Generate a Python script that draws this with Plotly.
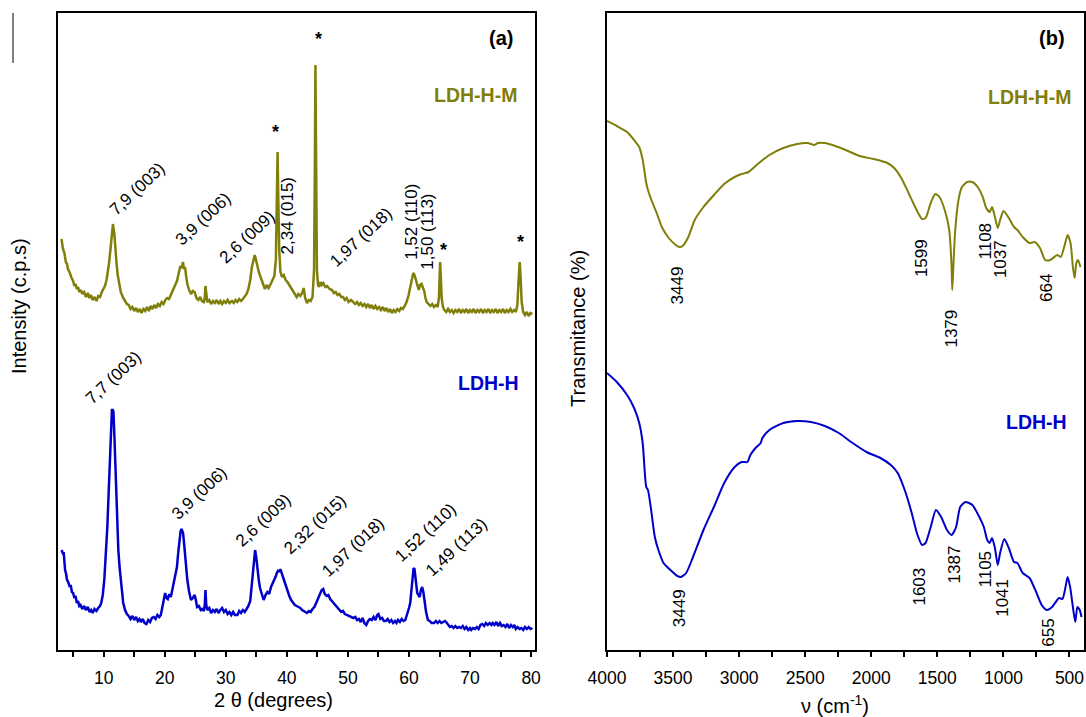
import plotly.graph_objects as go

# ---------------- XRD data (panel a) ----------------
xrd_hm_2theta = [3.1, 3.3, 3.57, 3.8, 4.0, 4.15, 4.4, 4.6, 4.74, 5.0, 5.2, 5.4, 5.6, 5.8, 6.0, 6.3, 6.5, 6.8, 7.1, 7.4,
                 7.66, 7.9, 8.2, 8.5, 8.83, 9.1, 9.4, 9.7, 10.0, 10.2, 10.47, 10.7, 10.88, 11.1, 11.29, 11.52, 11.75, 11.9, 12.1, 12.3,
                 12.5, 12.8, 13.2, 13.5, 13.8, 14.1, 14.4, 14.7, 15.0, 15.3, 15.6, 15.9, 16.2, 16.5, 16.8, 17.1, 17.4, 17.7, 18.0, 18.3,
                 18.6, 18.9, 19.2, 19.5, 19.8, 20.1, 20.4, 20.7, 21.1, 21.4, 21.7, 22.0, 22.3, 22.57, 22.8, 22.98, 23.15, 23.33, 23.5, 23.7,
                 24.0, 24.3, 24.6, 24.9, 25.2, 25.5, 25.8, 26.1, 26.4, 26.55, 26.67, 26.8, 26.96, 27.3, 27.6, 27.9, 28.2, 28.5, 28.8, 29.1,
                 29.4, 29.7, 30.0, 30.3, 30.6, 31.0, 31.3, 31.6, 31.9, 32.2, 32.5, 32.8, 33.1, 33.4, 33.7, 34.0, 34.27, 34.5, 34.74, 34.95,
                 35.15, 35.4, 35.7, 35.9, 36.1, 36.4, 36.7, 37.0, 37.2, 37.5, 37.7, 37.95, 38.2, 38.36, 38.48, 38.6, 38.75, 38.95, 39.2, 39.5,
                 39.8, 40.1, 40.4, 40.7, 41.0, 41.3, 41.6, 41.9, 42.2, 42.5, 42.75, 43.0, 43.3, 43.6, 43.9, 44.2, 44.45, 44.58, 44.68, 44.8,
                 44.92, 45.1, 45.26, 45.5, 45.7, 45.96, 46.3, 46.6, 47.0, 47.4, 47.7, 48.0, 48.3, 48.6, 48.9, 49.2, 49.5, 49.8, 50.1, 50.5,
                 50.9, 51.2, 51.5, 51.8, 52.1, 52.4, 52.7, 53.0, 53.3, 53.6, 53.9, 54.2, 54.5, 54.8, 55.1, 55.4, 55.7, 56.0, 56.3, 56.6,
                 56.9, 57.2, 57.5, 57.8, 58.1, 58.4, 58.7, 59.0, 59.3, 59.6, 59.9, 60.2, 60.45, 60.7, 60.9, 61.1, 61.35, 61.6, 61.8, 62.05,
                 62.3, 62.5, 62.7, 62.9, 63.2, 63.5, 63.8, 64.1, 64.4, 64.7, 64.9, 65.0, 65.1, 65.2, 65.35, 65.56, 65.8, 66.1, 66.4, 66.7,
                 67.0, 67.3, 67.6, 67.9, 68.2, 68.5, 68.8, 69.1, 69.4, 69.7, 70.0, 70.3, 70.6, 70.9, 71.2, 71.5, 71.8, 72.1, 72.4, 72.7,
                 73.0, 73.3, 73.6, 73.9, 74.2, 74.5, 74.8, 75.1, 75.4, 75.7, 76.0, 76.3, 76.6, 76.9, 77.2, 77.5, 77.75, 77.95, 78.13, 78.3,
                 78.45, 78.7, 79.0, 79.3, 79.6, 79.9, 80.2]
xrd_hm_counts = [411, 402, 397, 388, 386, 381, 378, 374, 372, 369, 364, 366, 361, 363, 358, 360, 356, 358, 353, 357,
                 352, 355, 350, 353, 349, 354, 353, 358, 361, 364, 370, 378, 387, 400, 416, 426, 416, 400, 387, 375,
                 367, 358, 352, 349, 346, 345, 341, 343, 339, 342, 338, 341, 337, 341, 339, 343, 339, 344, 341, 345,
                 342, 346, 344, 348, 346, 350, 352, 351, 357, 360, 364, 369, 377, 384, 382, 388, 381, 383, 374, 366,
                 360, 356, 359, 358, 352, 350, 353, 349, 348, 352, 364, 352, 348, 350, 346, 349, 347, 350, 346, 349,
                 346, 349, 347, 350, 347, 349, 347, 350, 348, 351, 349, 351, 353, 356, 361, 370, 383, 390, 395, 390,
                 383, 378, 373, 369, 365, 361, 365, 362, 364, 368, 370, 374, 390, 450, 498, 450, 400, 378, 373, 375,
                 370, 368, 365, 363, 360, 357, 353, 356, 354, 357, 362, 352, 347, 350, 349, 353, 380, 480, 585, 480,
                 380, 365, 363, 368, 365, 367, 363, 364, 361, 360, 357, 358, 355, 356, 353, 353, 350, 352, 348, 350,
                 348, 346, 348, 345, 347, 344, 346, 343, 346, 342, 345, 341, 344, 341, 343, 340, 343, 339, 342, 338,
                 341, 337, 340, 338, 341, 339, 342, 341, 344, 348, 354, 362, 372, 377, 375, 370, 364, 360, 365, 366,
                 362, 359, 352, 348, 346, 344, 346, 343, 345, 343, 352, 375, 388, 375, 352, 343, 340, 338, 341, 338,
                 340, 337, 340, 338, 341, 337, 340, 338, 341, 337, 340, 338, 341, 337, 340, 338, 341, 337, 340, 338,
                 341, 337, 340, 338, 341, 337, 340, 338, 341, 337, 340, 338, 341, 338, 340, 338, 345, 370, 388, 370,
                 348, 338, 335, 338, 334, 337, 336]

xrd_h_2theta = [3.1, 3.3, 3.45, 3.6, 3.68, 3.85, 4.0, 4.2, 4.44, 4.6, 4.8, 5.0, 5.2, 5.4, 5.6, 5.8, 6.0, 6.2, 6.5, 6.8,
                7.1, 7.4, 7.7, 7.95, 8.2, 8.5, 8.8, 9.1, 9.4, 9.6, 9.85, 10.1, 10.35, 10.6, 10.8, 11.0, 11.2, 11.35, 11.5, 11.6,
                11.75, 11.87, 12.05, 12.2, 12.4, 12.6, 12.9, 13.2, 13.5, 13.8, 14.1, 14.4, 14.7, 15.0, 15.3, 15.6, 15.85, 16.1, 16.4, 16.7,
                17.0, 17.3, 17.6, 17.9, 18.2, 18.5, 18.8, 19.1, 19.36, 19.6, 19.8, 20.06, 20.3, 20.5, 20.75, 21.0, 21.3, 21.6, 21.8, 22.0,
                22.2, 22.4, 22.6, 22.75, 22.9, 23.0, 23.15, 23.3, 23.5, 23.7, 24.0, 24.3, 24.6, 24.9, 25.1, 25.3, 25.6, 25.9, 26.1, 26.4,
                26.55, 26.67, 26.8, 26.96, 27.3, 27.6, 27.9, 28.2, 28.5, 28.8, 29.1, 29.4, 29.7, 30.0, 30.3, 30.6, 30.9, 31.2, 31.5, 31.9,
                32.2, 32.5, 32.8, 33.1, 33.4, 33.7, 34.0, 34.2, 34.44, 34.6, 34.8, 35.0, 35.15, 35.4, 35.6, 35.9, 36.2, 36.5, 36.8, 37.1,
                37.4, 37.7, 37.95, 38.2, 38.36, 38.6, 38.8, 38.95, 39.2, 39.5, 39.8, 40.1, 40.4, 40.7, 41.0, 41.3, 41.6, 41.9, 42.2, 42.5,
                42.8, 43.0, 43.3, 43.6, 43.9, 44.2, 44.5, 44.8, 45.1, 45.4, 45.7, 45.96, 46.2, 46.55, 46.8, 47.1, 47.4, 47.7, 48.0, 48.3,
                48.6, 48.9, 49.2, 49.5, 49.8, 50.1, 50.5, 50.9, 51.2, 51.5, 51.8, 52.1, 52.4, 52.7, 53.0, 53.3, 53.6, 53.9, 54.2, 54.5,
                54.8, 55.0, 55.3, 55.6, 55.9, 56.2, 56.5, 56.8, 57.1, 57.4, 57.7, 57.95, 58.2, 58.5, 58.8, 59.1, 59.4, 59.7, 60.0, 60.2,
                60.4, 60.6, 60.75, 60.9, 61.1, 61.35, 61.55, 61.75, 61.95, 62.15, 62.35, 62.5, 62.8, 63.1, 63.4, 63.7, 64.1, 64.4, 64.7, 65.0,
                65.3, 65.6, 65.9, 66.2, 66.5, 66.7, 67.0, 67.3, 67.6, 67.9, 68.2, 68.5, 68.8, 69.1, 69.4, 69.7, 70.0, 70.2, 70.5, 70.8,
                71.1, 71.4, 71.7, 72.0, 72.3, 72.6, 72.9, 73.2, 73.5, 73.7, 74.0, 74.3, 74.6, 74.9, 75.2, 75.5, 75.8, 76.1, 76.4, 76.7,
                77.0, 77.25, 77.5, 77.8, 78.1, 78.4, 78.7, 79.0, 79.3, 79.6, 79.9, 80.2]
xrd_h_counts = [100, 97, 98, 86, 80, 76, 70, 68, 63, 65, 58, 57, 52, 54, 47, 49, 44, 45, 41, 44,
                40, 43, 38, 40, 37, 41, 39, 42, 44, 47, 55, 70, 95, 123, 155, 187, 220, 240, 240, 238,
                215, 193, 155, 123, 100, 83, 62, 47, 40, 36, 34, 31, 34, 30, 33, 29, 31, 28, 31, 27,
                26, 30, 28, 32, 33, 31, 35, 33, 35, 42, 50, 57, 52, 51, 56, 53, 62, 70, 76, 83,
                97, 110, 119, 121, 118, 117, 108, 97, 82, 70, 58, 50, 52, 55, 50, 43, 44, 40, 41, 39,
                45, 60, 45, 40, 42, 37, 40, 38, 41, 37, 40, 42, 38, 40, 36, 38, 35, 38, 35, 35,
                39, 37, 40, 38, 41, 44, 49, 62, 77, 90, 100, 92, 81, 70, 62, 55, 50, 55, 58, 56,
                63, 67, 70, 74, 77, 80, 78, 81, 76, 70, 64, 58, 54, 50, 47, 45, 44, 43, 42, 40,
                39, 38, 37, 39, 38, 41, 43, 47, 52, 57, 60, 61, 56, 54, 55, 51, 49, 46, 45, 42,
                41, 38, 39, 36, 35, 34, 33, 32, 33, 30, 31, 28, 32, 27, 25, 29, 31, 30, 33, 30,
                35, 36, 31, 32, 29, 29, 31, 28, 30, 27, 29, 27, 30, 28, 31, 29, 30, 35, 42, 47,
                62, 77, 82, 81, 70, 57, 55, 53, 60, 63, 58, 50, 38, 30, 29, 27, 27, 29, 27, 29,
                27, 28, 29, 27, 25, 23, 24, 22, 24, 22, 23, 22, 24, 21, 23, 20, 22, 20, 22, 21,
                23, 21, 25, 26, 24, 27, 25, 27, 25, 27, 25, 28, 24, 27, 24, 25, 23, 26, 22, 25,
                23, 25, 21, 23, 21, 22, 20, 23, 21, 23, 21, 22]

xrd_hm_labels = ["7,9 (003)", "3,9 (006)", "2,6 (009)", "2,34 (015)", "1,97 (018)", "1,52 (110)", "1,50 (113)"]
xrd_hm_label_x = [15.4, 26.2, 33.4, 40.1, 52.1, 60.3, 62.9]
xrd_hm_label_y = [461, 431, 413, 435, 413, 428, 418]
xrd_hm_label_angle = [-43, -43, -43, -90, -43, -90, -90]

xrd_star_x = [38.1, 45.1, 65.6, 78.2]
xrd_star_y = [518, 611, 400, 408]

xrd_h_labels = ["7,7 (003)", "3,9 (006)", "2,6 (009)", "2,32 (015)", "1,97 (018)", "1,52 (110)", "1,49 (113)"]
xrd_h_label_x = [11.6, 25.6, 36.1, 44.6, 50.8, 62.7, 67.7]
xrd_h_label_y = [273, 157, 130, 126, 103, 118, 103]

xrd_ticks = [10, 20, 30, 40, 50, 60, 70, 80]

# ---------------- FTIR data (panel b) ----------------
ftir_hm_wn = [4000, 3926, 3848, 3795, 3756, 3730, 3703, 3690, 3664, 3624, 3585, 3533, 3480, 3454, 3428, 3388, 3336, 3270, 3191, 3113,
              3034, 2981, 2929, 2850, 2771, 2666, 2561, 2482, 2430, 2403, 2351, 2272, 2193, 2088, 1983, 1878, 1826, 1773, 1721, 1668,
              1616, 1589, 1550, 1516, 1484, 1444, 1410, 1392, 1387, 1379, 1366, 1340, 1314, 1274, 1235, 1195, 1156, 1130, 1104, 1086,
              1064, 1043, 1025, 999, 959, 920, 894, 854, 802, 763, 723, 684, 645, 592, 566, 540, 514, 492, 474, 461,
              448, 435, 417]
ftir_hm_t = [529, 524, 518, 510, 503, 490, 467, 460, 450, 437, 423, 412, 405, 403, 404, 412, 430, 443, 455, 466,
             473, 476, 478, 487, 495, 502, 506, 507, 505, 507, 507, 504, 500, 494, 491, 487, 482, 472, 458, 443,
             431, 432, 447, 456, 453, 440, 420, 383, 360, 383, 417, 450, 463, 468, 468, 463, 453, 442, 438, 443,
             433, 422, 430, 439, 432, 423, 420, 413, 407, 408, 402, 390, 390, 395, 393, 403, 415, 407, 383, 372,
             387, 390, 383]

ftir_h_wn = [4000, 3926, 3848, 3795, 3756, 3730, 3703, 3690, 3669, 3638, 3611, 3572, 3520, 3467, 3441, 3401, 3349, 3270, 3191, 3113,
             3034, 2981, 2937, 2915, 2876, 2837, 2824, 2771, 2666, 2561, 2456, 2351, 2246, 2141, 2036, 1931, 1852, 1800, 1747, 1694,
             1655, 1616, 1589, 1550, 1511, 1471, 1427, 1392, 1358, 1327, 1287, 1235, 1182, 1148, 1122, 1104, 1086, 1064, 1043, 1025,
             993, 959, 920, 894, 854, 802, 749, 710, 671, 632, 579, 553, 527, 514, 495, 474, 456, 440, 422, 409]
ftir_h_t = [277, 268, 255, 242, 227, 207, 163, 160, 143, 113, 100, 87, 80, 74, 73, 77, 93, 120, 143, 167,
            183, 188, 188, 195, 202, 207, 212, 220, 227, 229, 228, 224, 217, 207, 198, 192, 185, 177, 160, 137,
            117, 105, 107, 123, 140, 133, 120, 115, 123, 143, 148, 145, 133, 123, 110, 107, 112, 102, 85, 97,
            111, 102, 88, 87, 77, 72, 57, 45, 40, 43, 52, 51, 65, 73, 63, 43, 28, 43, 40, 33]

ftir_hm_labels = ["3449", "1599", "1379", "1108", "1037", "664"]
ftir_hm_label_x = [3467, 1623, 1400, 1143, 1025, 678]
ftir_hm_label_y = [365, 392, 321, 409, 391, 362]

ftir_h_labels = ["3449", "1603", "1387", "1105", "1041", "655"]
ftir_h_label_x = [3454, 1642, 1371, 1143, 1012, 665]
ftir_h_label_y = [42, 63, 86, 81, 52, 17]

ftir_ticks = [4000, 3500, 3000, 2500, 2000, 1500, 1000, 500]

# ---------------- styling ----------------
OLIVE = "#7f7f0a"
BLUE = "#0000c8"
FONT = "Liberation Sans, Arial, sans-serif"
W, H = 1086, 717


def px(x):
    return x / W


def py(y):
    return (H - y) / H


fig = go.Figure()
fig.add_trace(go.Scatter(x=xrd_hm_2theta, y=xrd_hm_counts, mode="lines", line=dict(color=OLIVE, width=2.5),
                         xaxis="x", yaxis="y", showlegend=False))
fig.add_trace(go.Scatter(x=xrd_h_2theta, y=xrd_h_counts, mode="lines", line=dict(color=BLUE, width=2.5),
                         xaxis="x", yaxis="y", showlegend=False))
fig.add_trace(go.Scatter(x=ftir_hm_wn, y=ftir_hm_t, mode="lines", line=dict(color=OLIVE, width=2, shape="spline", smoothing=0.6),
                         xaxis="x2", yaxis="y2", showlegend=False))
fig.add_trace(go.Scatter(x=ftir_h_wn, y=ftir_h_t, mode="lines", line=dict(color=BLUE, width=2, shape="spline", smoothing=0.6),
                         xaxis="x2", yaxis="y2", showlegend=False))

ydom = [py(650), py(13)]
axis_common = dict(showline=True, linecolor="black", linewidth=2, mirror=True, showgrid=False, zeroline=False,
                   ticks="outside", ticklen=5, tickwidth=1.5, tickcolor="black", automargin=False,
                   ticklabelstandoff=6,
                   tickfont=dict(family=FONT, size=17.5, color="black"))
yaxis_common = dict(range=[0, 637], showline=True, linecolor="black", linewidth=2, mirror=True,
                    showgrid=False, zeroline=False, showticklabels=False, ticks="", automargin=False)

fig.update_layout(
    width=W, height=H, autosize=False, margin=dict(l=0, r=0, t=0, b=0, pad=0, autoexpand=False),
    paper_bgcolor="white", plot_bgcolor="white", showlegend=False,
    font=dict(family=FONT, color="black"),
    xaxis=dict(domain=[px(58), px(534.6)], range=[2.52, 80.57], tickmode="array", tickvals=xrd_ticks,
               minor=dict(dtick=5, tick0=5, ticks="outside", ticklen=5, tickwidth=1.5, tickcolor="black"),
               anchor="y", **axis_common),
    yaxis=dict(domain=ydom, anchor="x", **yaxis_common),
    xaxis2=dict(domain=[px(607), px(1084)], range=[4000, 390], tickmode="array", tickvals=ftir_ticks,
                minor=dict(dtick=250, tick0=0, ticks="outside", ticklen=5, tickwidth=1.5, tickcolor="black"),
                anchor="y2", **axis_common),
    yaxis2=dict(domain=ydom, anchor="x2", **yaxis_common),
)

ann = []
for t, x, y, a in zip(xrd_hm_labels, xrd_hm_label_x, xrd_hm_label_y, xrd_hm_label_angle):
    ann.append(dict(text=t, x=x, y=y, xref="x", yref="y", textangle=a, showarrow=False,
                    xanchor="center", yanchor="middle",
                    font=dict(family=FONT, size=17, color="black")))
for x, y in zip(xrd_star_x, xrd_star_y):
    ann.append(dict(text="<b>*</b>", x=x, y=y, xref="x", yref="y", showarrow=False,
                    xanchor="center", yanchor="middle",
                    font=dict(family=FONT, size=18, color="black")))
for t, x, y in zip(xrd_h_labels, xrd_h_label_x, xrd_h_label_y):
    ann.append(dict(text=t, x=x, y=y, xref="x", yref="y", textangle=-43, showarrow=False,
                    xanchor="center", yanchor="middle",
                    font=dict(family=FONT, size=17, color="black")))
for t, x, y in zip(ftir_hm_labels, ftir_hm_label_x, ftir_hm_label_y):
    ann.append(dict(text=t, x=x, y=y, xref="x2", yref="y2", textangle=-90, showarrow=False,
                    xanchor="center", yanchor="middle",
                    font=dict(family=FONT, size=17, color="black")))
for t, x, y in zip(ftir_h_labels, ftir_h_label_x, ftir_h_label_y):
    ann.append(dict(text=t, x=x, y=y, xref="x2", yref="y2", textangle=-90, showarrow=False,
                    xanchor="center", yanchor="middle",
                    font=dict(family=FONT, size=17, color="black")))


def paper_text(text, x, y, size, color="black", angle=0):
    return dict(text=text, x=px(x), y=py(y), xref="paper", yref="paper", showarrow=False,
                xanchor="center", yanchor="middle", textangle=angle,
                font=dict(family=FONT, size=size, color=color))


ann += [
    paper_text("<b>(a)</b>", 501, 38, 20),
    paper_text("<b>(b)</b>", 1052, 38, 20),
    paper_text("<b>LDH-H-M</b>", 475, 95, 19.5, OLIVE),
    paper_text("<b>LDH-H</b>", 488, 383, 19.5, BLUE),
    paper_text("<b>LDH-H-M</b>", 1029, 97, 19.5, OLIVE),
    paper_text("<b>LDH-H</b>", 1036, 422, 19.5, BLUE),
    paper_text("2 θ (degrees)", 273, 700, 20),
    paper_text("ν (cm<sup>-1</sup>)", 835, 704, 20),
    paper_text("Intensity (c.p.s)", 19, 306, 20, angle=-90),
    paper_text("Transmitance (%)", 578, 329, 20, angle=-90),
]
fig.update_layout(annotations=ann)

# thin vertical stroke at the top-left edge of the original figure
fig.add_shape(type="line", xref="paper", yref="paper", x0=px(13), x1=px(13), y0=py(13), y1=py(63),
              line=dict(color="black", width=1))

fig.write_html("out.html", config={"displayModeBar": False},
               post_script="document.body.style.margin='0px';document.body.style.overflow='hidden';")
